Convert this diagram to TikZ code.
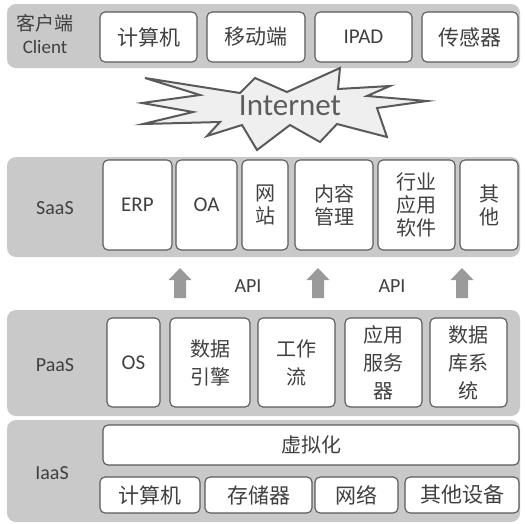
\documentclass[tikz,border=0pt]{standalone}
\usepackage{fontspec}
\setmainfont{Carlito}
\newfontfamily\cjk{Noto Sans CJK SC}
\usetikzlibrary{shapes.geometric}
\definecolor{bandgray}{HTML}{C9C9C9}
\definecolor{boxline}{HTML}{5A5A5A}
\definecolor{txt}{HTML}{404040}
\definecolor{arrowgray}{HTML}{9A9A9A}
\definecolor{starfill}{HTML}{EFEFEF}
\definecolor{startxt}{HTML}{5C5C5C}
\tikzset{
  band/.style={fill=bandgray, draw=none, rounded corners=9pt},
  box/.style={fill=white, draw=boxline, line width=1.1pt, rounded corners=5pt,
    align=center, text=txt, inner sep=0pt},
  lbl/.style={text=txt, align=center, inner sep=0pt},
  blockarrow/.style={fill=arrowgray, draw=none},
}
% name, x1, y1, x2, y2, font/size, text
\newcommand\bx[7]{\node[box, minimum width={(#4-#2)*1pt}, minimum height={(#5-#3)*1pt}, font=#6]
  (#1) at ({(#2+#4)/2},{(#3+#5)/2}) {#7};}
% up arrow centred at x
\newcommand\uparr[2]{\fill[blockarrow] (#1,268) -- (#1+11.5,280) -- (#1+6,280) -- (#1+6,298)
  -- (#1-6,298) -- (#1-6,280) -- (#1-11.5,280) -- cycle;}
\begin{document}
\begin{tikzpicture}[x=1pt,y=-1pt]
\useasboundingbox (0,0) rectangle (525,523);
\fill[white] (0,0) rectangle (525,523);
% bands
\path[band] (7,4) rectangle (520,68);
\path[band] (7,157) rectangle (520,257);
\path[band] (7,310) rectangle (520,416);
\path[band] (7,420) rectangle (520,522);
% client
\node[lbl, font=\fontsize{19}{23}\selectfont] (clientlbl) at (45,34) {{\cjk 客户端}\\Client};
\bx{c1}{100}{12}{197}{62}{\cjk\fontsize{21}{25}\selectfont}{计算机}
\bx{c2}{207}{12}{305}{62}{\cjk\fontsize{21}{25}\selectfont}{移动端}
\bx{c3}{315}{12}{412}{62}{\fontsize{21}{25}\selectfont}{IPAD}
\bx{c4}{422}{12}{518}{62}{\cjk\fontsize{21}{25}\selectfont}{传感器}
% internet star
\filldraw[fill=starfill, draw=boxline, line width=2pt, line join=miter]
  (145,78) -- (240,93) -- (255,78) -- (287,92) -- (340,68) -- (338,89) -- (390,86)
  -- (367,96) -- (427,101) -- (377,108) -- (387,137) -- (337,124) -- (320,142)
  -- (290,125) -- (257,150) -- (242,125) -- (207,136) -- (220,122) -- (143,124)
  -- (193,112) -- (142,103) -- (200,95) -- cycle;
\node[lbl, text=startxt, font=\fontsize{31}{35}\selectfont] (internet) at (290,106) {Internet};
% SaaS
\node[lbl, font=\fontsize{20}{24}\selectfont] (saaslbl) at (55,208) {SaaS};
\bx{s1}{103}{160}{172}{250}{\fontsize{21}{25}\selectfont}{ERP}
\bx{s2}{176}{160}{237}{250}{\fontsize{21}{25}\selectfont}{OA}
\bx{s3}{242}{160}{288}{250}{\cjk\fontsize{20}{23}\selectfont}{网\\站}
\bx{s4}{295}{160}{373}{250}{\cjk\fontsize{20}{23}\selectfont}{内容\\管理}
\bx{s5}{378}{160}{455}{250}{\cjk\fontsize{20}{23}\selectfont}{行业\\应用\\软件}
\bx{s6}{460}{160}{518}{250}{\cjk\fontsize{20}{23}\selectfont}{其\\他}
% API arrows
\uparr{180}{268}
\uparr{318}{268}
\uparr{462}{268}
\node[lbl, font=\fontsize{20}{24}\selectfont] (api1) at (248,286) {API};
\node[lbl, font=\fontsize{20}{24}\selectfont] (api2) at (392,286) {API};
% PaaS
\node[lbl, font=\fontsize{20}{24}\selectfont] (paaslbl) at (55,365) {PaaS};
\bx{p1}{107}{318}{160}{407}{\fontsize{21}{25}\selectfont}{OS}
\bx{p2}{170}{318}{250}{407}{\cjk\fontsize{20}{28}\selectfont}{数据\\引擎}
\bx{p3}{258}{318}{335}{407}{\cjk\fontsize{20}{28}\selectfont}{工作\\流}
\bx{p4}{345}{318}{422}{407}{\cjk\fontsize{20}{28}\selectfont}{应用\\服务\\器}
\bx{p5}{430}{318}{507}{407}{\cjk\fontsize{20}{28}\selectfont}{数据\\库系\\统}
% IaaS
\node[lbl, font=\fontsize{20}{24}\selectfont] (iaaslbl) at (52,473) {IaaS};
\bx{i0}{103}{425}{519}{465}{\cjk\fontsize{20}{24}\selectfont}{虚拟化}
\bx{i1}{100}{477}{200}{513}{\cjk\fontsize{21}{25}\selectfont}{计算机}
\bx{i2}{205}{477}{312}{513}{\cjk\fontsize{21}{25}\selectfont}{存储器}
\bx{i3}{315}{477}{398}{513}{\cjk\fontsize{21}{25}\selectfont}{网络}
\bx{i4}{405}{477}{519}{513}{\cjk\fontsize{21}{25}\selectfont}{其他设备}
\end{tikzpicture}
\end{document}
